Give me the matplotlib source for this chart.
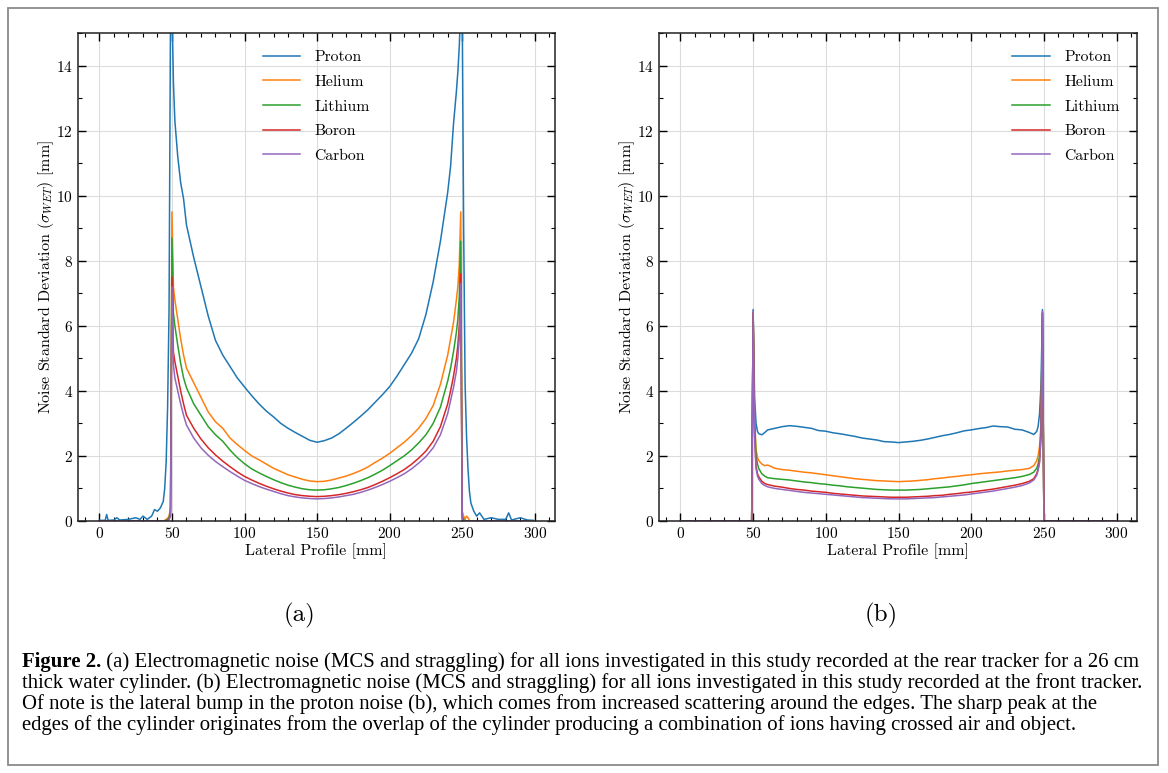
import matplotlib
matplotlib.use('Agg')
import matplotlib.pyplot as plt
from matplotlib.ticker import MultipleLocator
from matplotlib.patches import Rectangle

plt.rcParams['font.family'] = 'serif'
plt.rcParams['font.serif'] = ['cmr10']
plt.rcParams['mathtext.fontset'] = 'cm'
plt.rcParams['axes.formatter.use_mathtext'] = True

ions = ['Proton', 'Helium', 'Lithium', 'Boron', 'Carbon']
colors = ['#1f77b4', '#ff7f0e', '#2ca02c', '#d62728', '#9467bd']

# (a) rear tracker, lateral position [mm]
xa = [0, 4, 5, 6, 10, 12, 14, 20, 25, 28, 30, 33, 36, 38, 40, 42, 44, 45, 46, 47, 48, 49,
      50, 51, 52, 54, 56, 58, 60,
      65, 70, 75, 80, 85, 90, 95, 100, 105, 110, 115, 120, 125, 130, 135, 140, 145, 150,
      155, 160, 165, 170, 175, 180, 185, 190, 195, 200, 205, 210, 215, 220, 225, 230, 235, 240,
      242, 244, 246, 247, 248, 249,
      250, 251, 252, 253, 254, 255, 256, 258, 260, 262, 265, 270, 275, 280, 282, 284, 290, 295, 299]

proton_a = [0.02, 0.02, 0.20, 0.02, 0.03, 0.10, 0.03, 0.05, 0.10, 0.05, 0.15, 0.05, 0.15, 0.35,
            0.30, 0.40, 0.60, 1.00, 1.80, 3.50, 6.50, 15.5,
            15.8, 13.5, 12.3, 11.2, 10.4, 9.9, 9.1,
            8.1, 7.2, 6.3, 5.55, 5.1, 4.75, 4.4, 4.12, 3.85, 3.6, 3.38, 3.2, 3.0, 2.85, 2.72, 2.6,
            2.48, 2.42, 2.47, 2.55, 2.68, 2.85, 3.03, 3.22, 3.42, 3.65, 3.88, 4.13, 4.45, 4.8,
            5.15, 5.6, 6.35, 7.35, 8.6, 10.1,
            10.9, 12.2, 13.2, 13.8, 14.6, 15.8,
            15.8, 9.0, 4.2, 2.6, 1.6, 0.9, 0.55, 0.3, 0.15, 0.25, 0.05, 0.10, 0.05, 0.05, 0.25,
            0.03, 0.10, 0.03, 0.02]
helium_a = [0.0] * 17 + [0.02, 0.05, 0.08, 0.15, 0.40] + \
           [9.5, 7.2, 6.8, 6.2, 5.6, 5.1, 4.7,
            4.25, 3.8, 3.35, 3.05, 2.85, 2.55, 2.35, 2.17, 2.0, 1.88, 1.75, 1.62, 1.52, 1.42,
            1.35, 1.28, 1.23, 1.21, 1.22, 1.26, 1.32, 1.38, 1.46, 1.55, 1.66, 1.8, 1.93, 2.08,
            2.25, 2.42, 2.62, 2.85, 3.15, 3.55, 4.2, 5.1,
            5.6, 6.1, 6.8, 7.2, 7.9, 9.5,
            0.30, 0.15, 0.05, 0.15, 0.10, 0.02] + [0.0] * 13
lithium_a = [0.0] * 18 + [0.02, 0.05, 0.10, 0.30] + \
            [8.7, 6.4, 6.0, 5.4, 4.85, 4.4, 4.1,
             3.6, 3.25, 2.9, 2.65, 2.45, 2.18, 1.95, 1.76, 1.6, 1.48, 1.37, 1.27, 1.18, 1.1,
             1.04, 0.99, 0.96, 0.95, 0.96, 0.99, 1.03, 1.09, 1.16, 1.24, 1.33, 1.44, 1.56, 1.7,
             1.85, 2.0, 2.18, 2.4, 2.65, 3.0, 3.5, 4.3,
             4.7, 5.2, 5.8, 6.2, 6.9, 8.6,
             0.15, 0.05] + [0.0] * 17
boron_a = [0.0] * 19 + [0.03, 0.06, 0.20] + \
          [7.5, 5.2, 4.9, 4.45, 4.0, 3.6, 3.25,
           2.85, 2.52, 2.25, 2.03, 1.84, 1.67, 1.51, 1.37, 1.26, 1.16, 1.07, 0.99, 0.92, 0.86,
           0.81, 0.78, 0.76, 0.75, 0.76, 0.78, 0.81, 0.85, 0.9, 0.96, 1.03, 1.12, 1.22, 1.33,
           1.45, 1.58, 1.74, 1.93, 2.15, 2.45, 2.9, 3.6,
           4.0, 4.45, 5.0, 5.4, 6.0, 7.6,
           0.10] + [0.0] * 18
carbon_a = [0.0] * 19 + [0.02, 0.04, 0.15] + \
           [7.2, 4.8, 4.4, 4.0, 3.6, 3.25, 2.95,
            2.55, 2.25, 2.02, 1.83, 1.67, 1.52, 1.38, 1.25, 1.15, 1.06, 0.98, 0.91, 0.84, 0.78,
            0.74, 0.71, 0.69, 0.68, 0.69, 0.71, 0.74, 0.78, 0.82, 0.88, 0.95, 1.03, 1.12, 1.22,
            1.33, 1.45, 1.6, 1.78, 1.98, 2.25, 2.65, 3.3,
            3.7, 4.1, 4.6, 5.0, 5.6, 7.3,
            0.05] + [0.0] * 18

# (b) front tracker
xb = [0, 10, 20, 30, 40, 45, 49,
      50, 51, 52, 53, 54, 56, 58, 60,
      65, 70, 75, 80, 85, 90, 95, 100, 105, 110, 115, 120, 125, 130, 135, 140, 145, 150,
      155, 160, 165, 170, 175, 180, 185, 190, 195, 200, 205, 210, 215, 220, 225, 230, 235, 240,
      243, 245, 246, 247, 248, 249,
      250, 260, 270, 280, 290, 299]

proton_b = [0.0] * 7 + \
           [6.5, 3.8, 3.0, 2.75, 2.68, 2.65, 2.72, 2.8,
            2.85, 2.9, 2.93, 2.91, 2.88, 2.85, 2.78, 2.76, 2.71, 2.68, 2.64, 2.6, 2.55, 2.52,
            2.49, 2.44, 2.43, 2.41, 2.43, 2.45, 2.48, 2.52, 2.57, 2.62, 2.66, 2.71, 2.77, 2.8,
            2.84, 2.87, 2.92, 2.9, 2.89, 2.82, 2.8, 2.72,
            2.66, 2.75, 2.9, 3.3, 4.2, 6.5] + [0.0] * 6
helium_b = [0.0] * 7 + \
           [6.4, 3.2, 2.2, 1.95, 1.85, 1.75, 1.7, 1.72,
            1.62, 1.58, 1.56, 1.53, 1.5, 1.48, 1.45, 1.42, 1.39, 1.36, 1.33, 1.3, 1.28, 1.26,
            1.24, 1.23, 1.22, 1.21, 1.22, 1.23, 1.25, 1.27, 1.3, 1.32, 1.35, 1.37, 1.4, 1.42,
            1.45, 1.47, 1.49, 1.51, 1.54, 1.56, 1.58, 1.62,
            1.7, 1.85, 2.0, 2.3, 3.0, 6.4] + [0.0] * 6
lithium_b = [0.0] * 7 + \
            [6.4, 3.0, 2.0, 1.75, 1.6, 1.45, 1.38, 1.33,
             1.3, 1.28, 1.26, 1.23, 1.2, 1.18, 1.15, 1.13, 1.1, 1.08, 1.05, 1.03, 1.01, 0.99,
             0.97, 0.96, 0.95, 0.95, 0.95, 0.96, 0.97, 0.99, 1.01, 1.03, 1.05, 1.08, 1.11, 1.15,
             1.18, 1.21, 1.24, 1.27, 1.3, 1.33, 1.37, 1.43,
             1.5, 1.62, 1.75, 2.0, 2.8, 6.4] + [0.0] * 6
boron_b = [0.0] * 7 + \
          [6.4, 2.7, 1.7, 1.45, 1.35, 1.22, 1.15, 1.12,
           1.07, 1.04, 1.0, 0.97, 0.95, 0.92, 0.9, 0.88, 0.85, 0.83, 0.81, 0.79, 0.77, 0.76,
           0.75, 0.74, 0.73, 0.73, 0.73, 0.74, 0.75, 0.76, 0.78, 0.79, 0.82, 0.84, 0.87, 0.89,
           0.92, 0.95, 0.98, 1.02, 1.06, 1.1, 1.15, 1.22,
           1.3, 1.45, 1.6, 1.85, 2.6, 6.4] + [0.0] * 6
carbon_b = [0.0] * 7 + \
           [6.45, 2.6, 1.6, 1.38, 1.28, 1.15, 1.09, 1.05,
            1.0, 0.97, 0.94, 0.91, 0.88, 0.86, 0.84, 0.82, 0.8, 0.78, 0.76, 0.74, 0.72, 0.71,
            0.7, 0.69, 0.68, 0.68, 0.68, 0.69, 0.7, 0.71, 0.72, 0.74, 0.76, 0.78, 0.8, 0.83,
            0.86, 0.89, 0.92, 0.96, 1.0, 1.04, 1.09, 1.17,
            1.26, 1.4, 1.55, 1.8, 2.6, 6.45] + [0.0] * 6

series_a = [proton_a, helium_a, lithium_a, boron_a, carbon_a]
series_b = [proton_b, helium_b, lithium_b, boron_b, carbon_b]

caption_bold = 'Figure 2.'
caption_lines = [
    ' (a) Electromagnetic noise (MCS and straggling) for all ions investigated in this study recorded at the rear tracker for a 26 cm',
    'thick water cylinder. (b) Electromagnetic noise (MCS and straggling) for all ions investigated in this study recorded at the front tracker.',
    'Of note is the lateral bump in the proton noise (b), which comes from increased scattering around the edges. The sharp peak at the',
    'edges of the cylinder originates from the overlap of the cylinder producing a combination of ions having crossed air and object.',
]

W, H = 1168, 773
fig = plt.figure(figsize=(W / 100, H / 100), dpi=100)

# outer frame around figure + caption
fig.patches.append(Rectangle((8 / W, 8 / H), 1150 / W, 757 / H, transform=fig.transFigure,
                             fill=False, edgecolor='#8a8a8a', linewidth=1.3))

ax_a = fig.add_axes([77.7 / W, 252 / H, 477.3 / W, 488 / H])
ax_b = fig.add_axes([658.7 / W, 252 / H, 478.2 / W, 488 / H])


def style_axes(ax):
    ax.set_xlim(-14.95, 313.95)
    ax.set_ylim(0, 15)
    ax.xaxis.set_major_locator(MultipleLocator(50))
    ax.xaxis.set_minor_locator(MultipleLocator(10))
    ax.yaxis.set_major_locator(MultipleLocator(2))
    ax.yaxis.set_minor_locator(MultipleLocator(1))
    ax.tick_params(which='both', direction='in', top=True, right=True, labelsize=11)
    ax.tick_params(which='major', length=6, width=1.0)
    ax.tick_params(which='minor', length=3, width=0.8)
    for s in ax.spines.values():
        s.set_linewidth(1.1)
        s.set_color('#222222')
    ax.grid(True, which='major', color='#dcdcdc', linewidth=0.8)
    ax.set_axisbelow(True)
    ax.set_xlabel('Lateral Profile [mm]', fontsize=11.5, labelpad=2)
    ax.set_ylabel(r'Noise Standard Deviation ($\sigma_{WET}$) [mm]', fontsize=11.5, labelpad=0)


for ax, x, series, loc in [(ax_a, xa, series_a, 'upper center'), (ax_b, xb, series_b, 'upper right')]:
    for name, c, y in zip(ions, colors, series):
        ax.plot(x, y, color=c, linewidth=1.1, label=name)
    style_axes(ax)
    ax.legend(loc=loc, frameon=False, fontsize=11.3, handlelength=2.4,
              handletextpad=0.9, labelspacing=0.68, borderaxespad=0.7)

fig.text(299 / W, 1 - 615 / H, '(a)', fontsize=18, ha='center', va='center')
fig.text(881 / W, 1 - 615 / H, '(b)', fontsize=18, ha='center', va='center')

# caption: size chosen so the second (longest) line spans like the printed one
cap_font = 'Liberation Serif'
renderer = fig.canvas.get_renderer()
probe = fig.text(0, 0, caption_lines[1], fontsize=10, family=cap_font)
probe_w = probe.get_window_extent(renderer=renderer).width
probe.remove()
cap_size = 10 * 1128 / probe_w

line_y = [662, 683, 704, 725]
tb = fig.text(22 / W, 1 - line_y[0] / H, caption_bold, fontsize=cap_size, family=cap_font,
              fontweight='bold', va='center')
bb = tb.get_window_extent(renderer=renderer)
fig.text(bb.x1 / W, 1 - line_y[0] / H, caption_lines[0], fontsize=cap_size, family=cap_font,
         va='center')
for yy, txt in zip(line_y[1:], caption_lines[1:]):
    fig.text(22 / W, 1 - yy / H, txt, fontsize=cap_size, family=cap_font, va='center')

fig.savefig('out.png', dpi=100)
